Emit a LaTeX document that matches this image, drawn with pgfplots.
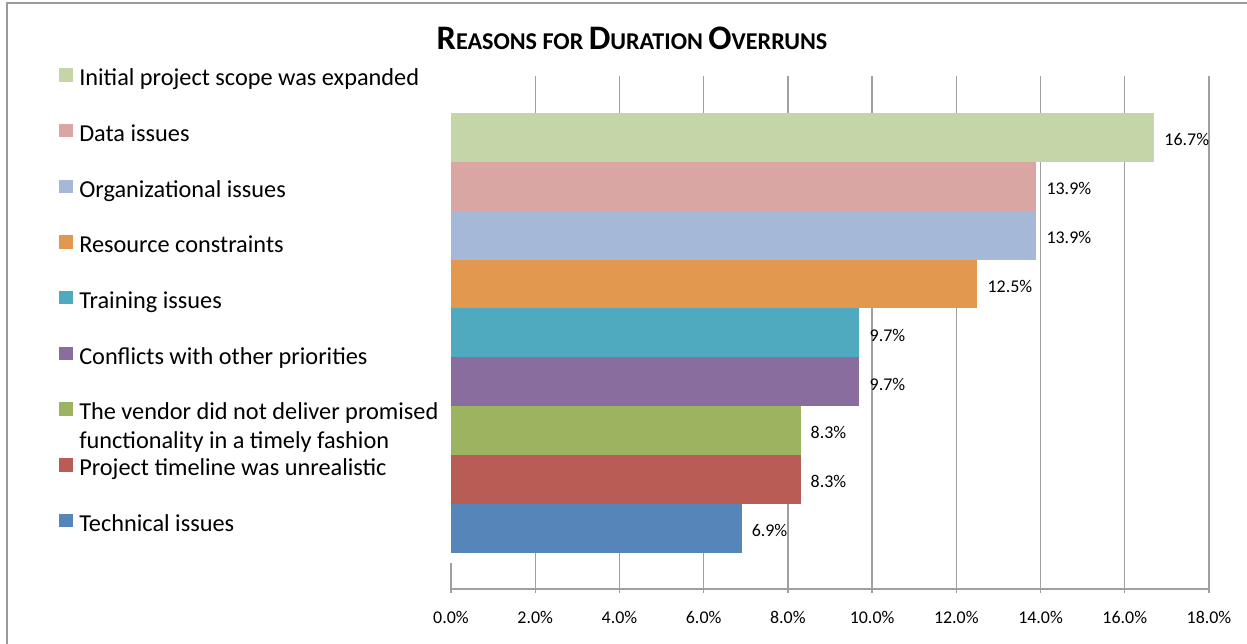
\documentclass[border=0pt]{standalone}
\usepackage{fontspec}
\setmainfont{Carlito}
\usepackage{pgfplots}
\pgfplotsset{compat=1.18}

\definecolor{cInit}{RGB}{196,214,168}
\definecolor{cData}{RGB}{218,166,163}
\definecolor{cOrg}{RGB}{165,184,216}
\definecolor{cRes}{RGB}{227,152,79}
\definecolor{cTrain}{RGB}{79,169,191}
\definecolor{cConf}{RGB}{136,109,158}
\definecolor{cVend}{RGB}{156,180,95}
\definecolor{cProj}{RGB}{185,92,86}
\definecolor{cTech}{RGB}{85,133,185}
\definecolor{gridgray}{RGB}{160,160,160}
\definecolor{framegray}{RGB}{155,155,155}

\newcommand\tbg{\fontsize{34.5}{34}\selectfont}
\newcommand\tsm{\fontsize{24.2}{24}\selectfont}

\begin{document}
\begin{tikzpicture}
\useasboundingbox (0,0) rectangle (1247bp,644bp);
\draw[framegray, line width=1.8bp] (7bp,-2bp) -- (7bp,641bp) -- (1250bp,641bp);
\node[anchor=base, inner sep=0pt, font=\bfseries] at (632bp,594.5bp)
  {\tbg R\tsm EASONS FOR \tbg D\tsm URATION \tbg O\tsm VERRUNS};

\begin{axis}[
  at={(451bp,55bp)}, anchor=south west,
  scale only axis, width=758bp, height=513bp,
  xmin=0, xmax=18, ymin=-1.242, ymax=9.257,
  clip=false,
  xbar, bar width=1, bar shift=0pt,
  axis x line*=bottom, axis y line=none,
  x axis line style={draw=gridgray, line width=1.3bp},
  xtick={2,4,...,18},
  extra x ticks={0}, extra x tick labels={0.0\%},
  extra x tick style={grid=none},
  xtick align=outside, major tick length=4bp,
  xtick style={draw=gridgray, line width=1.3bp},
  xmajorgrids, major grid style={draw=gridgray, line width=1.3bp},
  /pgf/number format/assume math mode=true,
  xticklabel={\pgfmathprintnumber[fixed,fixed zerofill,precision=1]{\tick}\%},
  xticklabel style={font=\fontsize{18}{18}\selectfont, inner sep=0pt,
    text height=11.6bp, text depth=0pt, anchor=north, yshift=-18.7bp},
  point meta=x,
  nodes near coords={\pgfmathprintnumber[fixed,fixed zerofill,precision=1]{\pgfplotspointmeta}\%},
  nodes near coords align={horizontal},
  nodes near coords style={font=\fontsize{18}{18}\selectfont, anchor=west,
    inner sep=0pt, text height=11.6bp, text depth=0pt, xshift=10bp, yshift=-2.5bp, black},
  legend image code/.code={\fill[#1] (0bp,-6.7bp) rectangle (13.4bp,6.7bp);},
  legend cell align=left,
  legend style={at={(axis description cs:-0.5168,1.0326)}, anchor=north west,
    draw=none, fill=none, inner sep=0pt, outer sep=0pt, row sep=24.3bp,
    font=\fontsize{24.4}{29}\selectfont,
    nodes={inner sep=0pt, text height=26.4bp, text depth=5bp},
    /tikz/every odd column/.append style={column sep=6.6bp}},
]
\addplot[fill=cInit, draw=none] coordinates {(16.7,8)};
\addlegendentry{Initial project scope was expanded}
\addplot[fill=cData, draw=none] coordinates {(13.9,7)};
\addlegendentry{Data issues}
\addplot[fill=cOrg, draw=none] coordinates {(13.9,6)};
\addlegendentry{Organizational issues}
\addplot[fill=cRes, draw=none] coordinates {(12.5,5)};
\addlegendentry{Resource constraints}
\addplot[fill=cTrain, draw=none] coordinates {(9.7,4)};
\addlegendentry{Training issues}
\addplot[fill=cConf, draw=none] coordinates {(9.7,3)};
\addlegendentry{Conflicts with other priorities}
\addplot[fill=cVend, draw=none] coordinates {(8.3,2)};
\addlegendentry{\vtop{\baselineskip=29bp\hbox{The vendor did not deliver promised}\hbox{functionality in a timely fashion}}}
\addplot[fill=cProj, draw=none] coordinates {(8.3,1)};
\addlegendentry{Project timeline was unrealistic}
\addplot[fill=cTech, draw=none] coordinates {(6.9,0)};
\addlegendentry{Technical issues}
\draw[gridgray, line width=1.3bp] (axis cs:0,-1.242) -- ++(0bp,26bp);
\end{axis}
\end{tikzpicture}
\end{document}
